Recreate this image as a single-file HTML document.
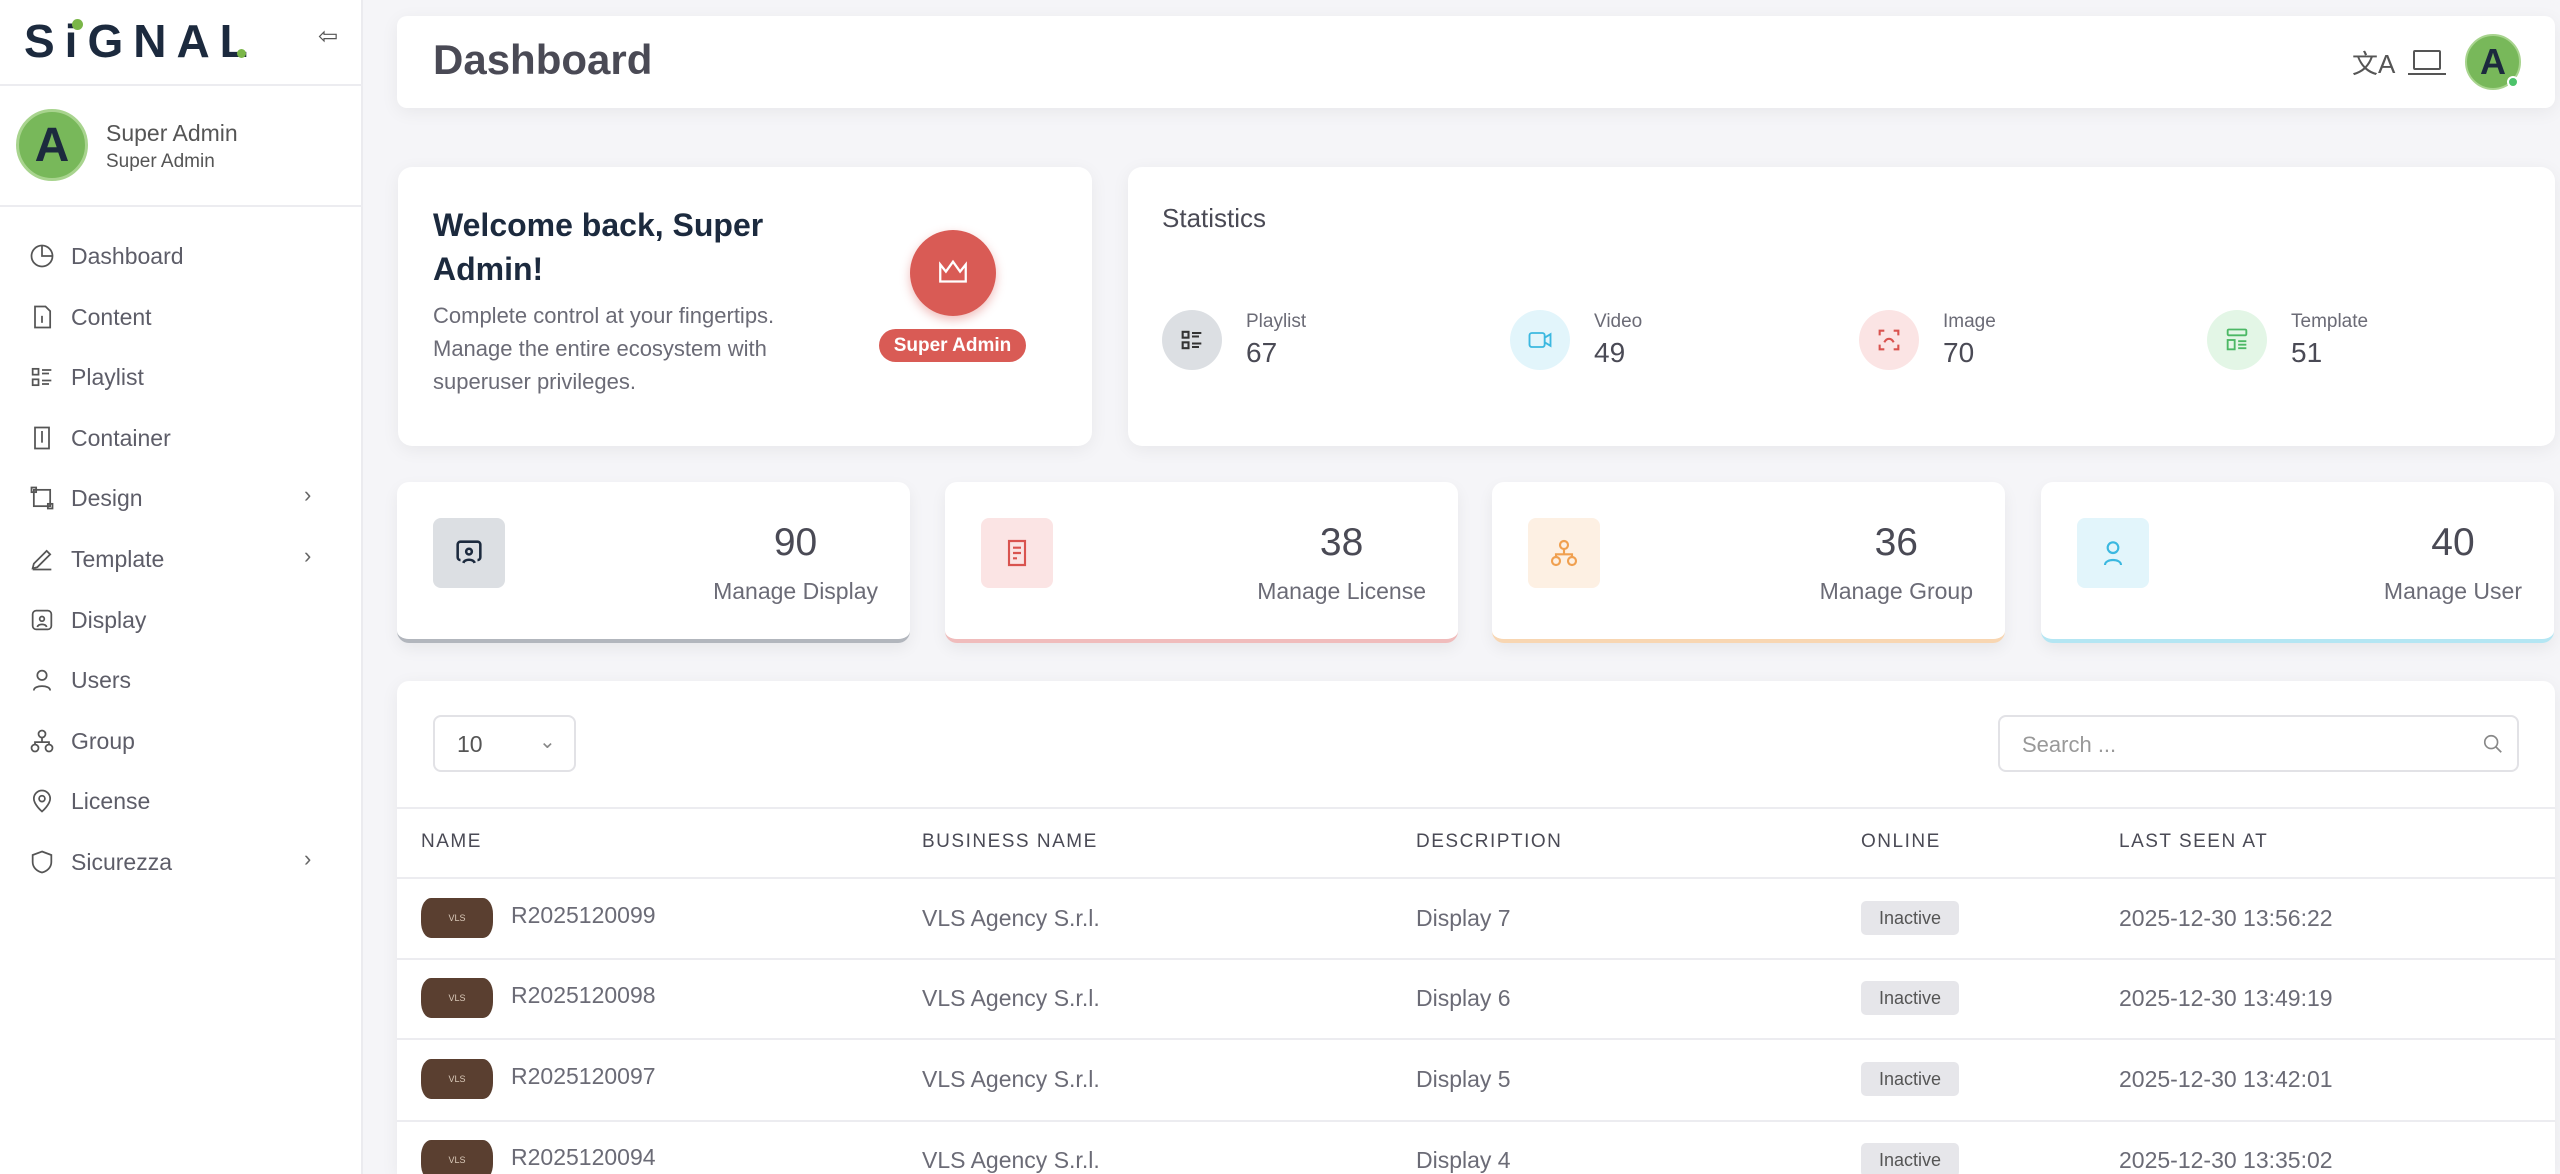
<!DOCTYPE html>
<html style="overflow:hidden;width:2560px;height:1174px"><head><meta charset="utf-8">
<style>
*{box-sizing:border-box;margin:0;padding:0}
body{width:2560px;height:1174px;overflow:hidden;background:#f5f5f8;font-family:"Liberation Sans",sans-serif;color:#6b6b76;position:relative}
.a{position:absolute}
.card{position:absolute;background:#fff;border-radius:14px;box-shadow:0 4px 18px rgba(0,0,0,0.06)}
.side{left:0;top:0;width:363px;height:1174px;background:#fff;border-right:2px solid #ebebef}
.mi{position:absolute;left:28px;font-size:23px;color:#5d5d68;display:flex;align-items:center;height:40px}
.mi svg{width:28px;height:28px;margin-right:15px}
.chev{position:absolute;left:304px;font-size:22px;color:#666}
.sc{position:absolute;top:482px;height:161px;width:513px;background:#fff;border-radius:12px;box-shadow:0 6px 16px rgba(0,0,0,0.06)}
.sc .ib{position:absolute;left:36px;top:36px;width:72px;height:70px;border-radius:8px;display:flex;align-items:center;justify-content:center}
.sc .w{position:absolute;right:32px;top:38px;text-align:center;white-space:nowrap}
.sc .n{font-size:39px;color:#4a4a55;line-height:46px}
.sc .l{font-size:23px;color:#6b6b76;margin-top:12px}
.th{position:absolute;top:831px;font-size:19px;letter-spacing:1.5px;color:#4a4a55}
.td{position:absolute;font-size:23px;color:#6b6b76}
.hl{position:absolute;left:397px;width:2158px;height:2px;background:#ececf0}
.thumb{position:absolute;left:421px;width:72px;height:40px;background:#5a3f30;border-radius:10px/16px;color:#d8c8b8;font-size:9px;display:flex;align-items:center;justify-content:center}
.bd{position:absolute;left:1861px;width:98px;height:34px;background:#e6e6ea;border-radius:5px;font-size:18px;color:#555;display:flex;align-items:center;justify-content:center}
.si{position:absolute;width:60px;height:60px;border-radius:50%;display:flex;align-items:center;justify-content:center;top:310px}
.sl{position:absolute;top:311px;font-size:19px;color:#6b6b76}
.sv{position:absolute;top:337px;font-size:28px;color:#4a4a55}
</style></head><body>
<div class="a side">
  <div class="a" style="left:24px;top:14px;font-size:46px;font-weight:bold;color:#1c2a3e;letter-spacing:10px">SiGNAL</div>
  <div class="a" style="left:72px;top:19px;width:11px;height:11px;border-radius:50%;background:#7ab648"></div>
  <div class="a" style="left:237px;top:49px;width:9px;height:9px;border-radius:50%;background:#7ab648"></div>
  <div class="a" style="left:318px;top:22px;font-size:24px;color:#555">⇦</div>
  <div class="a" style="left:0;top:84px;width:363px;height:2px;background:#ececf0"></div>
  <div class="a" style="left:16px;top:109px;width:72px;height:72px;border-radius:50%;background:#78b85a;border:3px solid #a8d48e;color:#1c2a3e;font-size:48px;font-weight:bold;display:flex;align-items:center;justify-content:center">A</div>
  <div class="a" style="left:106px;top:120px;font-size:23px;color:#555">Super Admin</div>
  <div class="a" style="left:106px;top:151px;font-size:19px;color:#555">Super Admin</div>
  <div class="a" style="left:0;top:205px;width:363px;height:2px;background:#ececf0"></div>
  <div class="mi" style="top:236px"><svg viewBox="0 0 24 24" fill="none" stroke="#555" stroke-width="1.5"><circle cx="12" cy="12" r="9"/><path d="M12 3v9h9"/></svg>Dashboard</div>
  <div class="mi" style="top:297px"><svg viewBox="0 0 24 24" fill="none" stroke="#555" stroke-width="1.5"><path d="M6 3h9l4 4v14H6z"/><path d="M12 11v6"/></svg>Content</div>
  <div class="mi" style="top:357px"><svg viewBox="0 0 24 24" fill="none" stroke="#555" stroke-width="1.5"><rect x="4" y="5" width="5" height="5"/><rect x="4" y="14" width="5" height="5"/><path d="M12 6h8M12 9h6M12 15h8M12 18h6"/></svg>Playlist</div>
  <div class="mi" style="top:418px"><svg viewBox="0 0 24 24" fill="none" stroke="#555" stroke-width="1.5"><path d="M6 3h12v18H6z"/><path d="M12 6v10"/></svg>Container</div>
  <div class="mi" style="top:478px"><svg viewBox="0 0 24 24" fill="none" stroke="#555" stroke-width="1.5"><rect x="5" y="5" width="14" height="14"/><rect x="3" y="3" width="4" height="4"/><rect x="17" y="17" width="4" height="4"/></svg>Design</div><div class="chev" style="top:482px">›</div>
  <div class="mi" style="top:539px"><svg viewBox="0 0 24 24" fill="none" stroke="#555" stroke-width="1.5"><path d="M4 20l4-1 11-11-3-3L5 16z"/><path d="M4 21h16"/></svg>Template</div><div class="chev" style="top:543px">›</div>
  <div class="mi" style="top:600px"><svg viewBox="0 0 24 24" fill="none" stroke="#555" stroke-width="1.5"><rect x="4" y="4" width="16" height="16" rx="3"/><circle cx="12" cy="11" r="2"/><path d="M8 18c1-3 7-3 8 0"/></svg>Display</div>
  <div class="mi" style="top:660px"><svg viewBox="0 0 24 24" fill="none" stroke="#555" stroke-width="1.5"><circle cx="12" cy="8" r="4"/><path d="M5 21c0-5 14-5 14 0"/></svg>Users</div>
  <div class="mi" style="top:721px"><svg viewBox="0 0 24 24" fill="none" stroke="#555" stroke-width="1.5"><circle cx="12" cy="6" r="3"/><circle cx="6" cy="18" r="3"/><circle cx="18" cy="18" r="3"/><path d="M12 9v4M6 15v-2h12v2"/></svg>Group</div>
  <div class="mi" style="top:781px"><svg viewBox="0 0 24 24" fill="none" stroke="#555" stroke-width="1.5"><path d="M12 21s-7-6-7-11a7 7 0 0114 0c0 5-7 11-7 11z"/><circle cx="12" cy="10" r="2.5"/></svg>License</div>
  <div class="mi" style="top:842px"><svg viewBox="0 0 24 24" fill="none" stroke="#555" stroke-width="1.5"><path d="M12 3l8 3v6c0 5-4 8-8 9-4-1-8-4-8-9V6z"/></svg>Sicurezza</div><div class="chev" style="top:846px">›</div>
</div>

<div class="card" style="left:397px;top:16px;width:2158px;height:92px;border-radius:10px">
  <div class="a" style="left:36px;top:20px;font-size:42px;font-weight:bold;color:#4a4a55">Dashboard</div>
  <div class="a" style="left:1955px;top:28px;font-size:26px;color:#555">文A</div>
  <div class="a" style="left:2016px;top:34px;width:28px;height:20px;border:2px solid #555;border-radius:2px"></div>
  <div class="a" style="left:2011px;top:57px;width:38px;height:2px;background:#555"></div>
  <div class="a" style="left:2068px;top:18px;width:56px;height:56px;border-radius:50%;background:#78b85a;border:2px solid #a8d48e;color:#1c2a3e;font-size:36px;font-weight:bold;display:flex;align-items:center;justify-content:center">A</div>
  <div class="a" style="left:2110px;top:60px;width:12px;height:12px;border-radius:50%;background:#4cc36a;border:2px solid #fff"></div>
</div>

<div class="card" style="left:398px;top:167px;width:694px;height:279px">
  <div class="a" style="left:35px;top:36px;font-size:32px;font-weight:bold;color:#1c2a3e;line-height:44px">Welcome back, Super<br>Admin!</div>
  <div class="a" style="left:35px;top:132px;font-size:22px;line-height:33px;color:#6b6b76">Complete control at your fingertips.<br>Manage the entire ecosystem with<br>superuser privileges.</div>
  <div class="a" style="left:512px;top:63px;width:86px;height:86px;border-radius:50%;background:#d95b55;box-shadow:0 4px 10px rgba(217,91,85,0.4);display:flex;align-items:center;justify-content:center"><svg width="34" height="30" viewBox="0 0 24 20" fill="none" stroke="#fff" stroke-width="1.6"><path d="M3 4l4 5 5-7 5 7 4-5v12H3z"/></svg></div>
  <div class="a" style="left:481px;top:162px;width:147px;height:33px;border-radius:17px;background:#d95b55;color:#fff;font-size:19px;font-weight:bold;display:flex;align-items:center;justify-content:center">Super Admin</div>
</div>

<div class="card" style="left:1128px;top:167px;width:1427px;height:279px">
  <div class="a" style="left:34px;top:36px;font-size:26px;color:#4a4a55">Statistics</div>
</div>
<div class="si" style="left:1162px;background:#dcdfe3"><svg width="28" height="28" viewBox="0 0 24 24" fill="none" stroke="#333" stroke-width="1.8"><rect x="4" y="5" width="5" height="5"/><rect x="4" y="14" width="5" height="5"/><path d="M12 6h8M12 9h6M12 15h8M12 18h6"/></svg></div>
<div class="sl" style="left:1246px">Playlist</div><div class="sv" style="left:1246px">67</div>
<div class="si" style="left:1510px;background:#e2f5fb"><svg width="28" height="28" viewBox="0 0 24 24" fill="none" stroke="#3bb8e0" stroke-width="1.6"><rect x="3" y="6" width="13" height="12" rx="2"/><path d="M16 10l5-3v10l-5-3"/></svg></div>
<div class="sl" style="left:1594px">Video</div><div class="sv" style="left:1594px">49</div>
<div class="si" style="left:1859px;background:#fbe4e4"><svg width="28" height="28" viewBox="0 0 24 24" fill="none" stroke="#d9534f" stroke-width="1.8"><path d="M4 8V4h4M16 4h4v4M20 16v4h-4M8 20H4v-4M8 14c2-4 6-4 8 0"/></svg></div>
<div class="sl" style="left:1943px">Image</div><div class="sv" style="left:1943px">70</div>
<div class="si" style="left:2207px;background:#e3f6e6"><svg width="28" height="28" viewBox="0 0 24 24" fill="none" stroke="#4cb865" stroke-width="1.6"><rect x="4" y="3" width="16" height="5" rx="1"/><rect x="4" y="12" width="6" height="8"/><path d="M13 13h7M13 16h7M13 19h7"/></svg></div>
<div class="sl" style="left:2291px">Template</div><div class="sv" style="left:2291px">51</div>

<div class="sc" style="left:397px;border-bottom:4px solid #b2b6bd"><div class="ib" style="background:#dcdfe3"><svg width="34" height="34" viewBox="0 0 24 24" fill="none" stroke="#1c2a3e" stroke-width="1.8"><path d="M6 17a2 2 0 01-2-2V6a2 2 0 012-2h12a2 2 0 012 2v9a2 2 0 01-2 2"/><circle cx="12" cy="11" r="2"/><path d="M8 19c1-3 7-3 8 0"/></svg></div><div class="w"><div class="n">90</div><div class="l">Manage Display</div></div></div>
<div class="sc" style="left:945px;border-bottom:4px solid #f0bcbc"><div class="ib" style="background:#fbe4e4"><svg width="32" height="32" viewBox="0 0 24 24" fill="none" stroke="#d9534f" stroke-width="1.6"><path d="M6 3h12v18H6zM9 8h6M9 12h6M9 16h3"/></svg></div><div class="w"><div class="n">38</div><div class="l">Manage License</div></div></div>
<div class="sc" style="left:1492px;border-bottom:4px solid #f8d6b2"><div class="ib" style="background:#fdf0e3"><svg width="32" height="32" viewBox="0 0 24 24" fill="none" stroke="#f0a050" stroke-width="1.6"><circle cx="12" cy="6" r="3"/><circle cx="6" cy="18" r="3"/><circle cx="18" cy="18" r="3"/><path d="M12 9v4M6 15v-2h12v2"/></svg></div><div class="w"><div class="n">36</div><div class="l">Manage Group</div></div></div>
<div class="sc" style="left:2041px;border-bottom:4px solid #b4e6f3"><div class="ib" style="background:#e2f5fb"><svg width="32" height="32" viewBox="0 0 24 24" fill="none" stroke="#3bb8e0" stroke-width="1.6"><circle cx="12" cy="8" r="4"/><path d="M6 21c0-5 12-5 12 0"/></svg></div><div class="w"><div class="n">40</div><div class="l">Manage User</div></div></div>

<div class="card" style="left:397px;top:681px;width:2158px;height:493px;border-radius:12px 12px 0 0">
  <div class="a" style="left:36px;top:34px;width:143px;height:57px;border:2px solid #e2e2e6;border-radius:8px"><span class="a" style="left:22px;top:14px;font-size:23px;color:#555">10</span><span class="a" style="left:104px;top:12px;font-size:20px;color:#888">⌄</span></div>
  <div class="a" style="left:1601px;top:34px;width:521px;height:57px;border:2px solid #e2e2e6;border-radius:8px"><span class="a" style="left:22px;top:15px;font-size:22px;color:#999">Search ...</span><svg class="a" style="left:482px;top:16px" width="22" height="22" viewBox="0 0 24 24" fill="none" stroke="#888" stroke-width="1.8"><circle cx="10" cy="10" r="7"/><path d="M15 15l6 6"/></svg></div>
</div>
<div class="hl" style="top:807px"></div>
<div class="th" style="left:421px">NAME</div><div class="th" style="left:922px">BUSINESS NAME</div><div class="th" style="left:1416px">DESCRIPTION</div><div class="th" style="left:1861px">ONLINE</div><div class="th" style="left:2119px">LAST SEEN AT</div>
<div class="hl" style="top:877px"></div>
<div class="hl" style="top:958px"></div>
<div class="hl" style="top:1038px"></div>
<div class="hl" style="top:1120px"></div>

<div class="thumb" style="top:898px">VLS</div><div class="td" style="left:511px;top:902px">R2025120099</div><div class="td" style="left:922px;top:905px">VLS Agency S.r.l.</div><div class="td" style="left:1416px;top:905px">Display 7</div><div class="bd" style="top:901px">Inactive</div><div class="td" style="left:2119px;top:905px">2025-12-30 13:56:22</div>
<div class="thumb" style="top:978px">VLS</div><div class="td" style="left:511px;top:982px">R2025120098</div><div class="td" style="left:922px;top:985px">VLS Agency S.r.l.</div><div class="td" style="left:1416px;top:985px">Display 6</div><div class="bd" style="top:981px">Inactive</div><div class="td" style="left:2119px;top:985px">2025-12-30 13:49:19</div>
<div class="thumb" style="top:1059px">VLS</div><div class="td" style="left:511px;top:1063px">R2025120097</div><div class="td" style="left:922px;top:1066px">VLS Agency S.r.l.</div><div class="td" style="left:1416px;top:1066px">Display 5</div><div class="bd" style="top:1062px">Inactive</div><div class="td" style="left:2119px;top:1066px">2025-12-30 13:42:01</div>
<div class="thumb" style="top:1140px">VLS</div><div class="td" style="left:511px;top:1144px">R2025120094</div><div class="td" style="left:922px;top:1147px">VLS Agency S.r.l.</div><div class="td" style="left:1416px;top:1147px">Display 4</div><div class="bd" style="top:1143px">Inactive</div><div class="td" style="left:2119px;top:1147px">2025-12-30 13:35:02</div>
</body></html>
